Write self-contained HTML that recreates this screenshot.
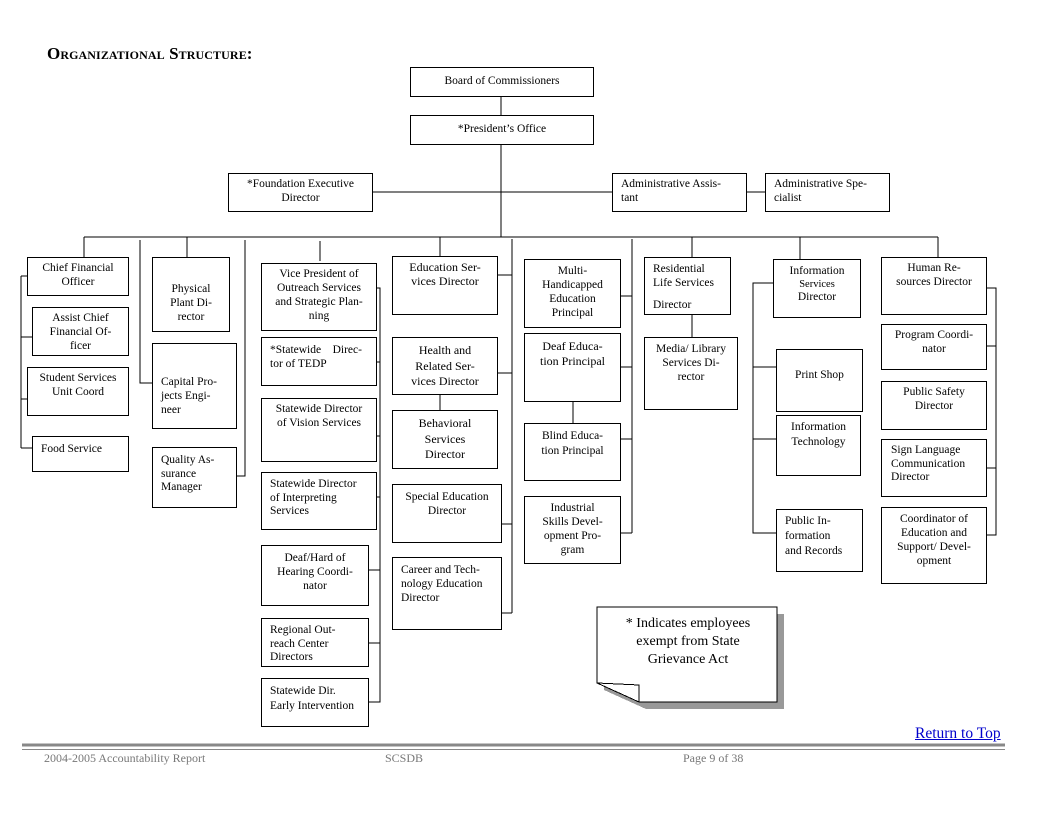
<!DOCTYPE html>
<html><head><meta charset="utf-8"><style>
body{margin:0;background:#fff;width:1050px;height:813px;position:relative;overflow:hidden;font-family:"Liberation Serif",serif;color:#000}
.b{position:absolute;border:1px solid #000;box-sizing:border-box;font-size:11.5px;line-height:14px;text-align:center;padding:3px 4px 0;background:#fff}
.l{text-align:left;padding-left:8px}
svg{position:absolute;left:0;top:0}
.t{position:absolute;font-size:17px;font-weight:bold;font-variant:small-caps;left:47px;top:44px;letter-spacing:0.1px}
.f{position:absolute;top:751px;font-size:12px;color:#777}
</style></head><body>
<div class="t">Organizational Structure:</div>
<svg width="1050" height="813" stroke="#000" stroke-width="1" fill="none" shape-rendering="crispEdges">
<path d="M501 96V115M501 144V237M372 192H612M746 192H765M84 237H938"/>
<path d="M84 237V257M140 240V383H152M187 237V257M245 240V476H236M320 241V261M440 237V256M512 239V613M632 239V533M692 237V257M692 314V337M800 237V259M938 237V257"/>
<path d="M21 276V448M21 276H27M21 337H32M21 399H27M21 448H32"/>
<path d="M376 288H380V702H368M376 362H380M376 436H380M376 497H380M368 570H380M368 643H380"/>
<path d="M497 275H512M497 373H512M501 524H512M501 613H512M440 394V410"/>
<path d="M620 296H632M620 367H632M620 439H632M620 533H632M573 401V423"/>
<path d="M773 283H753V533H776M753 367H776M753 439H776"/>
<path d="M986 288H996V535H986M986 346H996M986 468H996"/>
<path d="M604 614H784V709H646L604 690Z" fill="#999" stroke="none"/>
<path d="M597 607H777V702H639L597 683Z" fill="#fff"/>
<path d="M597 683L639 685V702" />
<path d="M22 745H1005" stroke="#888" stroke-width="3"/>
<path d="M22 749.5H1005" stroke="#888" stroke-width="1"/>
</svg>
<div class="b" style="left:410px;top:67px;width:184px;height:30px;padding-top:6px">Board of Commissioners</div>
<div class="b" style="left:410px;top:115px;width:184px;height:30px;padding-top:6px">*President’s Office</div>
<div class="b" style="left:228px;top:173px;width:145px;height:39px">*Foundation Executive<br>Director</div>
<div class="b l" style="left:612px;top:173px;width:135px;height:39px">Administrative Assis-<br>tant</div>
<div class="b l" style="left:765px;top:173px;width:125px;height:39px">Administrative Spe-<br>cialist</div>

<div class="b" style="left:27px;top:257px;width:102px;height:39px">Chief Financial<br>Officer</div>
<div class="b" style="left:32px;top:307px;width:97px;height:49px">Assist Chief<br>Financial Of-<br>ficer</div>
<div class="b" style="left:27px;top:367px;width:102px;height:49px">Student Services<br>Unit Coord</div>
<div class="b l" style="left:32px;top:436px;width:97px;height:36px;padding-top:5px">Food Service</div>
<div class="b" style="left:152px;top:257px;width:78px;height:75px;padding-top:24px">Physical<br>Plant Di-<br>rector</div>
<div class="b l" style="left:152px;top:343px;width:85px;height:86px;padding-top:31px">Capital Pro-<br>jects Engi-<br>neer</div>
<div class="b l" style="left:152px;top:447px;width:85px;height:61px;padding-top:6px;line-height:13.5px">Quality As-<br>surance<br>Manager</div>

<div class="b" style="left:261px;top:263px;width:116px;height:68px">Vice President of<br>Outreach Services<br>and Strategic Plan-<br>ning</div>
<div class="b l" style="left:261px;top:337px;width:116px;height:49px;padding-top:5px">*Statewide&nbsp;&nbsp;&nbsp; Direc-<br>tor of TEDP</div>
<div class="b" style="left:261px;top:398px;width:116px;height:64px">Statewide Director<br>of Vision Services</div>
<div class="b l" style="left:261px;top:472px;width:116px;height:58px;padding-top:5px;line-height:13.5px">Statewide Director<br>of Interpreting<br>Services</div>
<div class="b" style="left:261px;top:545px;width:108px;height:61px;padding-top:5px">Deaf/Hard of<br>Hearing Coordi-<br>nator</div>
<div class="b l" style="left:261px;top:618px;width:108px;height:49px;padding-top:5px;line-height:13.5px;overflow:hidden">Regional Out-<br>reach Center<br>Directors</div>
<div class="b l" style="left:261px;top:678px;width:108px;height:49px;padding-top:5px;line-height:15px">Statewide Dir.<br>Early Intervention</div>

<div class="b" style="left:392px;top:256px;width:106px;height:59px;font-size:12px">Education Ser-<br>vices Director</div>
<div class="b" style="left:392px;top:337px;width:106px;height:58px;padding-top:5px;font-size:12px;line-height:15.5px">Health and<br>Related Ser-<br>vices Director</div>
<div class="b" style="left:392px;top:410px;width:106px;height:59px;padding-top:5px;font-size:12px;line-height:15.5px">Behavioral<br>Services<br>Director</div>
<div class="b" style="left:392px;top:484px;width:110px;height:59px;padding-top:5px">Special Education<br>Director</div>
<div class="b l" style="left:392px;top:557px;width:110px;height:73px;padding-top:5px">Career and Tech-<br>nology Education<br>Director</div>

<div class="b" style="left:524px;top:259px;width:97px;height:69px;padding-top:4px">Multi-<br>Handicapped<br>Education<br>Principal</div>
<div class="b" style="left:524px;top:333px;width:97px;height:69px;padding-top:5px;font-size:12px;line-height:15px">Deaf Educa-<br>tion Principal</div>
<div class="b" style="left:524px;top:423px;width:97px;height:58px;padding-top:5px;line-height:15px">Blind Educa-<br>tion Principal</div>
<div class="b" style="left:524px;top:496px;width:97px;height:68px;padding-top:4px">Industrial<br>Skills Devel-<br>opment Pro-<br>gram</div>

<div class="b l" style="left:644px;top:257px;width:87px;height:58px;padding-top:4px;line-height:14px">Residential<br>Life Services<br><span style="display:block;margin-top:8px">Director</span></div>
<div class="b" style="left:644px;top:337px;width:94px;height:73px;padding-top:4px">Media/ Library<br>Services Di-<br>rector</div>
<div class="b" style="left:773px;top:259px;width:88px;height:59px;padding-top:5px;line-height:13px">Information<br><span style="font-size:10.5px">Services</span><br>Director</div>
<div class="b" style="left:776px;top:349px;width:87px;height:63px;padding-top:18px">Print Shop</div>
<div class="b" style="left:776px;top:415px;width:85px;height:61px;padding-top:4px;line-height:15px">Information<br>Technology</div>
<div class="b l" style="left:776px;top:509px;width:87px;height:63px;padding-top:4px;line-height:15px">Public In-<br>formation<br>and Records</div>

<div class="b" style="left:881px;top:257px;width:106px;height:58px">Human Re-<br>sources Director</div>
<div class="b" style="left:881px;top:324px;width:106px;height:46px">Program Coordi-<br>nator</div>
<div class="b" style="left:881px;top:381px;width:106px;height:49px">Public Safety<br>Director</div>
<div class="b l" style="left:881px;top:439px;width:106px;height:58px;padding-top:4px;padding-left:9px;line-height:13.5px">Sign Language<br>Communication<br>Director</div>
<div class="b" style="left:881px;top:507px;width:106px;height:77px;padding-top:4px">Coordinator of<br>Education and<br>Support/ Devel-<br>opment</div>

<div style="position:absolute;left:600px;top:615px;width:176px;text-align:center;font-size:14px;line-height:18px">* Indicates employees<br>exempt from State<br>Grievance Act</div>

<div style="position:absolute;left:915px;top:725px;font-size:15.5px;color:#00c;text-decoration:underline">Return to Top</div>
<div class="f" style="left:44px">2004-2005 Accountability Report</div>
<div class="f" style="left:385px">SCSDB</div>
<div class="f" style="left:683px">Page 9 of 38</div>
</body></html>
